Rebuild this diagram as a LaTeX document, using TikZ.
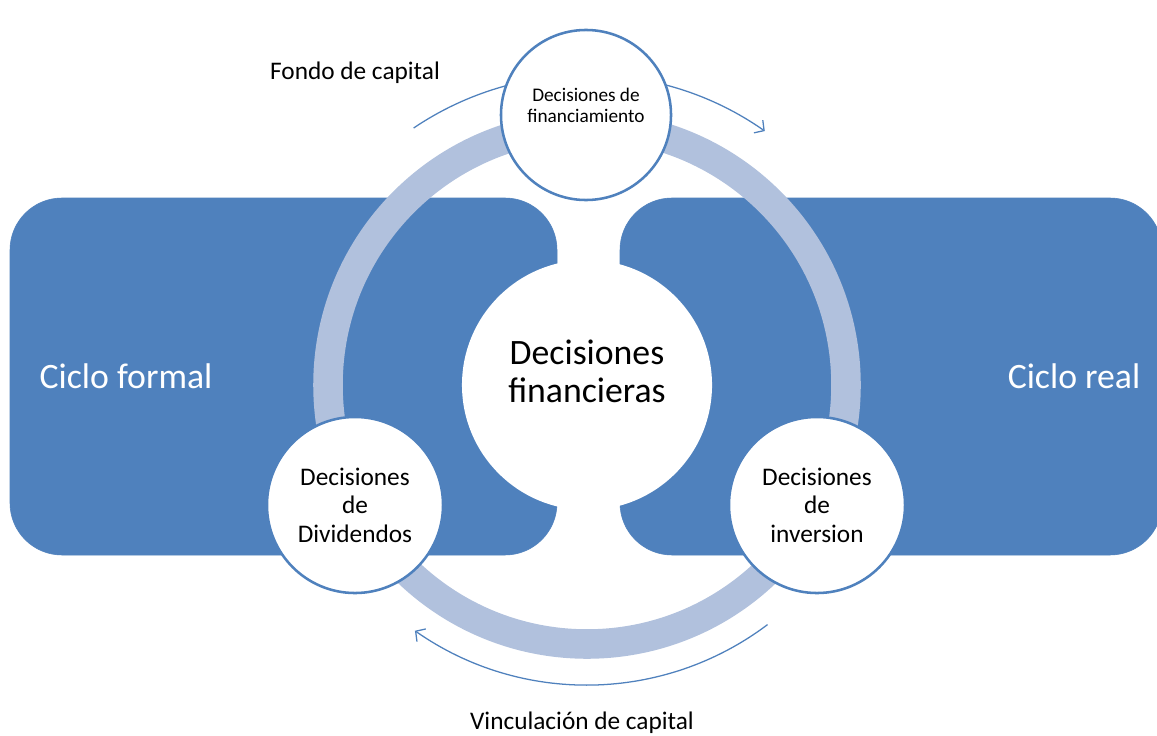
\documentclass[tikz,border=0pt]{standalone}
\usepackage{fontspec}
\setmainfont{Carlito}
\usetikzlibrary{arrows.meta}
\definecolor{boxblue}{HTML}{4F81BD}
\definecolor{ringblue}{HTML}{B1C1DD}

\begin{document}
\begin{tikzpicture}[x=0.025cm,y=0.025cm,
		cycle/.style={draw=boxblue,fill=boxblue,rounded corners=1.3cm},
		ring/.style={draw=ringblue,line width=21pt},
		flow/.style={draw=boxblue,line width=0.9pt,-{Straight Barb[length=5pt,width=11pt]}},
		decision/.style={circle,draw=boxblue,line width=1.8pt,fill=white,inner sep=0pt,minimum size=4.4cm},
		small/.style={font=\fontsize{18}{20.2}\selectfont,align=center},
		tiny/.style={font=\fontsize{13.7}{15}\selectfont,align=center},
		big/.style={font=\fontsize{25.4}{27}\selectfont,align=center}]
	\useasboundingbox[fill=white] (0,0) rectangle (1157,-736);
	\coordinate (mid) at (587,-385);
	% the two cycles behind the wheel
	\draw[cycle] (10,-198) rectangle (557,-555);
	\draw[cycle] (620,-198) rectangle (1162,-555);
	\node[white,font=\fontsize{25.4}{30}\selectfont] (formal) at (126,-376) {Ciclo formal};
	\node[white,font=\fontsize{25.4}{30}\selectfont] (real) at (1074,-376) {Ciclo real};
	% wheel and the two flows round it
	\draw[ring] (mid) circle[radius=259];
	\coordinate (fondo-in) at ([shift={(124:310)}]mid);
	\coordinate (vinc-in) at ([shift={(-53:300)}]mid);
	\draw[flow] (fondo-in) arc[start angle=124,end angle=55,radius=310];
	\draw[flow] (vinc-in) arc[start angle=-53,end angle=-125,radius=300];
	% decisions
	\node[circle,fill=white,minimum size=6.25cm] (fin) at (mid) {};
	\node[big] at ([yshift=0.35cm]fin.center) {Decisiones\\financieras};
	\node[decision,minimum size=4.25cm] (financ) at (586,-115) {};
	\node[tiny] at ([yshift=0.25cm]financ.center) {Decisiones de\\financiamiento};
	\node[decision,small] (divid) at (355,-505) {Decisiones\\de\\Dividendos};
	\node[decision,small] (inver) at (817,-505) {Decisiones\\de\\inversion};
	% flow labels
	\node[small,anchor=base] (fondo) at (355,-80) {Fondo de capital};
	\node[small,anchor=base] (vinc) at (582,-729) {Vinculación de capital};
\end{tikzpicture}
\end{document}
